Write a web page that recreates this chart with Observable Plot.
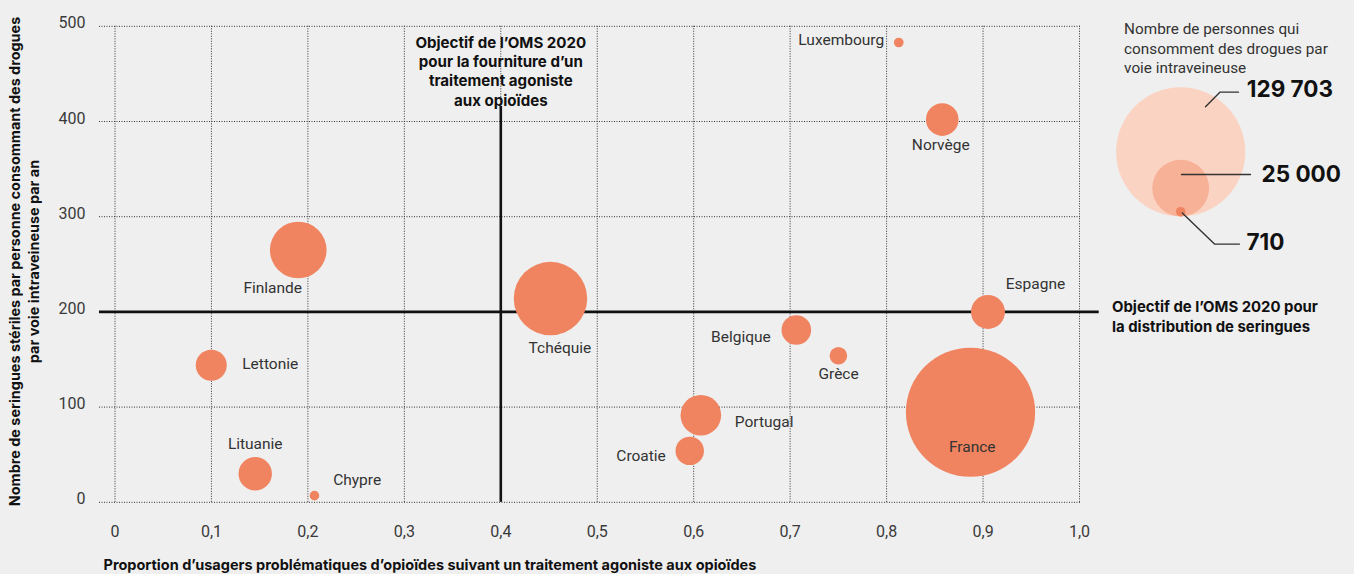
<!DOCTYPE html>
<html><head><meta charset="utf-8">
<script src="https://cdn.jsdelivr.net/npm/d3@7"></script>
<script src="https://cdn.jsdelivr.net/npm/@observablehq/plot@0.6"></script>
<style>
html,body{margin:0;padding:0;background:#efefef;}
#chart svg{display:block;}
</style></head><body><div id="chart"></div>
<script>
// ---- data ----
const countries = ["Finlande","Lettonie","Lituanie","Chypre","Tchéquie","Belgique","Grèce","Portugal","Croatie","Luxembourg","Norvège","Espagne","France"];
const treatmentShare = [0.190,0.0998,0.1454,0.2068,0.4515,0.7064,0.750,0.6074,0.5959,0.8126,0.8577,0.9051,0.887];
const syringesPerPerson = [265,144,30,7,214,181,154,91.5,54,483,402,200,94.6];
const injectors = [24900,7470,8670,710,41900,6800,2400,12800,6270,730,8260,8980,129703];
const xTicks = [0,0.1,0.2,0.3,0.4,0.5,0.6,0.7,0.8,0.9,1.0];
const yTicks = [0,100,200,300,400,500];
const legendValues = [129703,25000,710];
const legendLabels = ["129 703","25 000","710"];
const targetTreatment = 0.4;
const targetSyringes = 200;

// ---- layout ----
const W = 1354, H = 574, ML = 114.5, MR = 275, MT = 25.8, MB = 72.2;
const px2x = p => (p - ML) / (W - ML - MR);
const py2y = p => (H - MB - p) / ((H - MT - MB) / 500);
const RMAX = 64.6;
const rScale = d3.scaleSqrt().domain([0, 129703]).range([0, RMAX]);
const BOLD = "Inter, Roboto, sans-serif";

const data = countries.map((c, i) => ({country: c, x: treatmentShare[i], y: syringesPerPerson[i], n: injectors[i]}));

const placement = {
  "Finlande": {a: "middle", dx: -25.5, dy: 38.5},
  "Lettonie": {a: "start", dx: 31, dy: -0.8},
  "Lituanie": {a: "middle", dx: 0, dy: -29.6},
  "Chypre": {a: "start", dx: 18.7, dy: -15.3},
  "Tchéquie": {a: "middle", dx: 9.5, dy: 49.8},
  "Belgique": {a: "end", dx: -25.5, dy: 7.3},
  "Grèce": {a: "middle", dx: 0.2, dy: 18.3},
  "Portugal": {a: "start", dx: 34, dy: 6.5},
  "Croatie": {a: "end", dx: -23.9, dy: 5.5},
  "Luxembourg": {a: "end", dx: -14.6, dy: -2.5},
  "Norvège": {a: "middle", dx: -1.5, dy: 25.5},
  "Espagne": {a: "middle", dx: 47.5, dy: -28.2},
  "France": {a: "middle", dx: 1.7, dy: 35.2}
};
const labelMarks = data.map(d => {
  const p = placement[d.country];
  return Plot.text([d], {x: "x", y: "y", text: "country", textAnchor: p.a, dx: p.dx, dy: p.dy, fontSize: 15.5, fill: "#333"});
});

// legend
const LCX = 1180.2, LBOTTOM = 216;
const legendFills = ["#fbd3c2", "#f6b196", "#f08460"];
const legendDots = legendValues.map((v, i) => Plot.dot([v], {
  x: () => px2x(LCX), y: () => py2y(LBOTTOM - rScale(v)), r: d => d, fill: legendFills[i]
}));
const leaders = [
  [[1205, 106.2],[1219.6, 91.6],[1238, 91.6]],
  [[1181, 174],[1250, 174]],
  [[1181.8, 212.5],[1214, 243.6],[1239, 243.6]]
];
const leaderMarks = leaders.map(pts => Plot.line(pts, {x: p => px2x(p[0]), y: p => py2y(p[1]), stroke: "#333", strokeWidth: 1.4}));
const legendNumPos = [[1246.3, 89.7],[1261, 174],[1246, 242.5]];
const legendNumMarks = legendLabels.map((t, i) => Plot.text([t], {
  x: () => px2x(legendNumPos[i][0]), y: () => py2y(legendNumPos[i][1]), text: d => d,
  textAnchor: "start", fontSize: 22.5, fontWeight: 700, fill: "#111", fontFamily: BOLD
}));

const fmtX = d => d === 0 ? "0" : d3.format(".1f")(d).replace(".", ",");

const chart = Plot.plot({
  width: W, height: H,
  marginLeft: ML, marginRight: MR, marginTop: MT, marginBottom: MB,
  style: {background: "#efefef", fontFamily: "Roboto, 'Open Sans', sans-serif", overflow: "visible"},
  x: {domain: [0, 1]},
  y: {domain: [0, 500]},
  r: {type: "sqrt", domain: [0, 129703], range: [0, RMAX]},
  marks: [
    Plot.ruleX(xTicks, {y1: 0, y2: 500, stroke: "#333", strokeWidth: 1, strokeDasharray: "1,1.5"}),
    Plot.ruleY(yTicks, {x1: px2x(99), x2: px2x(1080), stroke: "#333", strokeWidth: 1, strokeDasharray: "1,1.5"}),
    Plot.axisX(xTicks, {tickSize: 0, tickPadding: 23, tickFormat: fmtX, fontSize: 16, fill: "#3a3a3a", label: null}),
    Plot.axisY(yTicks, {tickSize: 0, tickPadding: 29.5, fontSize: 16, fill: "#3a3a3a", dy: -3, label: null}),
    Plot.ruleY([targetSyringes], {x1: px2x(99), x2: px2x(1098.7), stroke: "#111", strokeWidth: 2.6}),
    Plot.ruleX([targetTreatment], {y1: 0, y2: py2y(106), stroke: "#111", strokeWidth: 2.6}),
    Plot.dot(data, {x: "x", y: "y", r: "n", fill: "#f08460"}),
    ...labelMarks,
    Plot.text(["Objectif de l’OMS 2020\npour la fourniture d’un\ntraitement agoniste\naux opioïdes"], {
      x: targetTreatment, y: 500, text: d => d, lineAnchor: "top", dy: 7.5, textAnchor: "middle",
      fontSize: 15.1, fontWeight: 700, lineHeight: 1.28, fill: "#111", fontFamily: BOLD
    }),
    Plot.text(["Objectif de l’OMS 2020 pour\nla distribution de seringues"], {
      x: () => px2x(1111.5), y: targetSyringes, text: d => d, lineAnchor: "middle", dy: 3.6, textAnchor: "start",
      fontSize: 14.9, fontWeight: 700, lineHeight: 1.34, fill: "#111", fontFamily: BOLD
    }),
    Plot.text(["Nombre de personnes qui\nconsomment des drogues par\nvoie intraveineuse"], {
      x: () => px2x(1123.6), y: 500, text: d => d, lineAnchor: "top", dy: -5.5, textAnchor: "start",
      fontSize: 15.3, lineHeight: 1.26, fill: "#333"
    }),
    ...legendDots,
    ...leaderMarks,
    ...legendNumMarks,
    Plot.text(["Proportion d’usagers problématiques d’opioïdes suivant un traitement agoniste aux opioïdes"], {
      x: () => px2x(103), y: () => py2y(565), text: d => d, textAnchor: "start", fontSize: 14.5, fontWeight: 700, fill: "#111", fontFamily: BOLD
    }),
    Plot.text(["Nombre de seringues stériles par personne consommant des drogues\npar voie intraveineuse par an"], {
      x: () => px2x(23), y: () => py2y(261), text: d => d, rotate: -90, textAnchor: "middle", lineAnchor: "middle",
      fontSize: 14.4, fontWeight: 700, lineHeight: 1.3, fill: "#111", fontFamily: BOLD
    })
  ]
});
document.getElementById("chart").appendChild(chart);
</script>
</body></html>
